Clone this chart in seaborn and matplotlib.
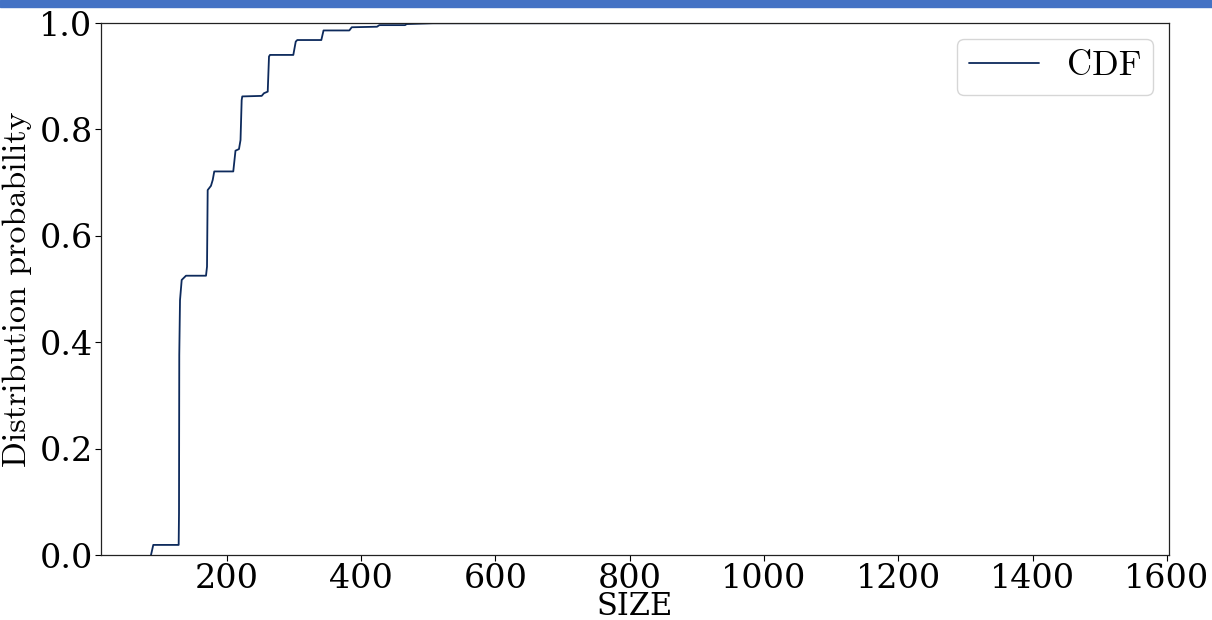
import matplotlib
matplotlib.use("Agg")
import matplotlib.pyplot as plt
import seaborn as sns
from matplotlib.patches import Rectangle

# CDF knots (SIZE -> cumulative probability)
size_vals = [87.3, 90.7, 128.5, 129.0, 129.4, 130.5, 133.0, 139.4, 169.2, 170.7,
             171.7, 176.6, 179.2, 181.5, 209.8, 213.1, 218.3, 220.6, 222.3, 223.2,
             252.1, 255.5, 261.1, 263.0, 264.5, 299.2, 302.8, 305.1, 340.9, 344.2,
             382.6, 386.2, 423.8, 427.3, 465.5, 468.1, 507.2, 1530.0]
cdf_vals = [0.0, 0.019, 0.019, 0.079, 0.376, 0.479, 0.517, 0.525, 0.525, 0.542,
            0.686, 0.694, 0.705, 0.721, 0.721, 0.760, 0.763, 0.780, 0.855, 0.862,
            0.863, 0.868, 0.871, 0.937, 0.940, 0.940, 0.965, 0.968, 0.968, 0.986,
            0.986, 0.992, 0.993, 0.996, 0.996, 0.998, 0.9995, 1.0]
y_ticks = [0.0, 0.2, 0.4, 0.6, 0.8, 1.0]
x_ticks = [200, 400, 600, 800, 1000, 1200, 1400, 1600]

sns.set_theme(style="ticks")
plt.rcParams["font.family"] = ["DejaVu Serif"]
plt.rcParams["text.color"] = "black"
plt.rcParams["axes.labelcolor"] = "black"
plt.rcParams["xtick.color"] = "black"
plt.rcParams["ytick.color"] = "black"

fig = plt.figure(figsize=(12.12, 6.2), dpi=100)
ax = fig.add_axes([0.0833, 0.1048, 0.8812, 0.8581])

sns.lineplot(x=size_vals, y=cdf_vals, sort=False, estimator=None, ax=ax,
             color="#0d2a5c", linewidth=1.3, label="CDF")

ax.set_xlim(12.8, 1603)
ax.set_ylim(0, 1.0)
ax.set_xticks(x_ticks)
ax.set_yticks(y_ticks)
ax.tick_params(axis="both", labelsize=24, length=4, width=0.8, pad=2)
for s in ax.spines.values():
    s.set_color("#222222")
    s.set_linewidth(0.9)

ax.set_xlabel("SIZE", fontsize=22, labelpad=-3)
ax.set_ylabel("Distribution probability", fontsize=24.5, fontfamily="cmr10", labelpad=5)

leg = ax.legend(loc="upper right", prop={"family": "cmr10", "size": 25},
                frameon=True, fancybox=True, handlelength=2.0, borderaxespad=0.45,
                borderpad=0.35)
leg.get_frame().set_edgecolor("#cccccc")

fig.add_artist(Rectangle((0, 1 - 7 / 620), 1, 7 / 620, transform=fig.transFigure,
                         color="#4472c4", clip_on=False, zorder=10))

fig.savefig("out.png", dpi=100)
